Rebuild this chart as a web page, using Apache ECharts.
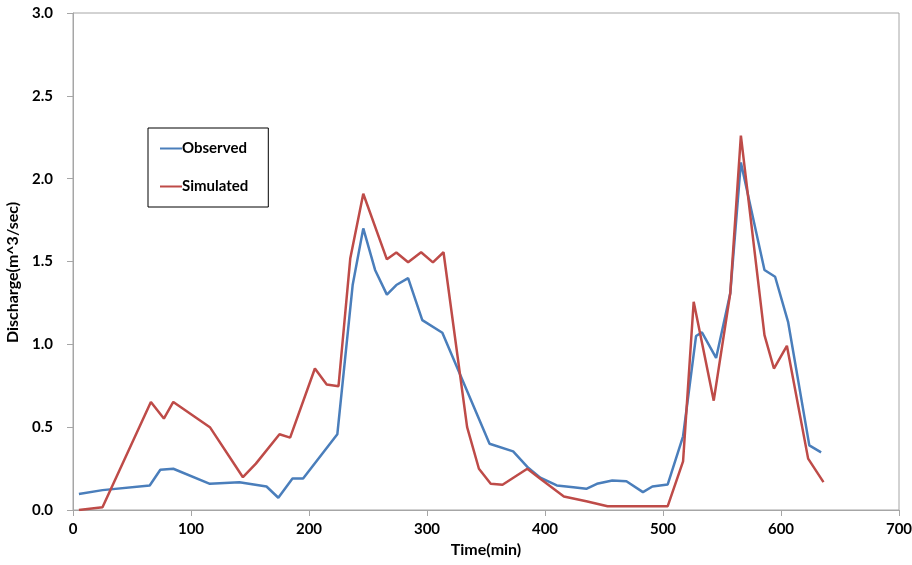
<!DOCTYPE html>
<html>
<head>
<meta charset="utf-8">
<script src="https://cdn.jsdelivr.net/npm/echarts@6/dist/echarts.min.js"></script>
<style>
  html, body { margin: 0; padding: 0; background: #fff; }
  #chart { width: 912px; height: 565px; }
</style>
</head>
<body>
<div id="chart"></div>
<script>
// Time (min) and discharge (m^3/sec) for the observed hydrograph
const obsTime = [5, 25, 65, 74, 85, 116, 141, 164, 174, 186, 195, 224, 237, 246, 256, 266, 274, 284, 296, 313, 353, 373, 386, 396, 410, 424, 435, 444, 457, 469, 483, 491, 504, 517, 528, 533, 545, 557, 566, 586, 595, 606, 624, 634];
const obsQ = [0.096, 0.12, 0.148, 0.243, 0.249, 0.158, 0.168, 0.142, 0.074, 0.19, 0.19, 0.457, 1.358, 1.70, 1.449, 1.30, 1.358, 1.40, 1.146, 1.07, 0.40, 0.354, 0.253, 0.195, 0.148, 0.138, 0.128, 0.158, 0.178, 0.174, 0.108, 0.142, 0.154, 0.445, 1.05, 1.072, 0.918, 1.308, 2.098, 1.449, 1.408, 1.136, 0.39, 0.348];

// Time (min) and discharge (m^3/sec) for the simulated hydrograph
const simTime = [5, 25, 66, 77, 85, 116, 144, 155, 175, 184, 205, 215, 225, 235, 246, 266, 274, 284, 295, 305, 314, 334, 344, 354, 364, 385, 396, 416, 435, 453, 504, 517, 526, 543, 557, 566, 586, 594, 605, 623, 636];
const simQ = [0.0, 0.017, 0.652, 0.552, 0.652, 0.50, 0.198, 0.28, 0.457, 0.437, 0.854, 0.757, 0.747, 1.52, 1.909, 1.513, 1.554, 1.495, 1.556, 1.495, 1.556, 0.50, 0.249, 0.158, 0.152, 0.249, 0.189, 0.082, 0.053, 0.023, 0.023, 0.293, 1.257, 0.66, 1.308, 2.26, 1.056, 0.854, 0.991, 0.31, 0.168];

const xTicks = [0, 100, 200, 300, 400, 500, 600, 700];
const yTicks = [0, 0.5, 1.0, 1.5, 2.0, 2.5, 3.0];

const seriesNames = ['Observed', 'Simulated'];
const seriesColors = ['#4a7ebb', '#be4b48'];

const zip = (xs, ys) => xs.map((x, i) => [x, ys[i]]);

const font = 'Lato, "Open Sans", sans-serif';
const axisGrey = '#a6a6a6';

const chart = echarts.init(document.getElementById('chart'), null, { renderer: 'canvas' });

chart.setOption({
  animation: false,
  backgroundColor: '#ffffff',
  grid: {
    left: 73, right: 13, top: 13, bottom: 55,
    outerBoundsMode: 'none',
    containLabel: false,
    show: true, borderColor: axisGrey, borderWidth: 1, backgroundColor: 'transparent'
  },
  legend: {
    orient: 'vertical',
    left: 148, top: 128,
    padding: [13, 20, 13, 11],
    itemGap: 23,
    itemWidth: 22,
    itemHeight: 14,
    borderColor: '#000',
    borderWidth: 1,
    itemStyle: { opacity: 0 },
    lineStyle: { width: 2 },
    textStyle: { fontFamily: font, fontWeight: 'bold', fontSize: 15, color: '#000', padding: [0, 0, 0, -5] },
    data: seriesNames
  },
  xAxis: {
    type: 'value',
    min: xTicks[0], max: xTicks[xTicks.length - 1], interval: 100,
    name: 'Time(min)',
    nameLocation: 'middle',
    nameGap: 32,
    nameTextStyle: { fontFamily: font, fontWeight: 'bold', fontSize: 16, color: '#000' },
    axisLine: { show: true, lineStyle: { color: axisGrey, width: 1 } },
    axisTick: { show: true, inside: false, length: 6, lineStyle: { color: axisGrey } },
    axisLabel: { margin: 12, fontFamily: font, fontWeight: 'bold', fontSize: 15, color: '#000' },
    splitLine: { show: false }
  },
  yAxis: {
    type: 'value',
    min: yTicks[0], max: yTicks[yTicks.length - 1], interval: 0.5,
    name: 'Discharge(m^3/sec)',
    nameLocation: 'middle',
    nameRotate: 90,
    nameGap: 47,
    nameTextStyle: { fontFamily: font, fontWeight: 'bold', fontSize: 16, color: '#000', padding: [0, 22, 0, 0] },
    axisLine: { show: true, lineStyle: { color: axisGrey, width: 1 } },
    axisTick: { show: true, inside: false, length: 6, lineStyle: { color: axisGrey } },
    axisLabel: {
      margin: 20, fontFamily: font, fontWeight: 'bold', fontSize: 15, color: '#000',
      formatter: v => v.toFixed(1)
    },
    splitLine: { show: false }
  },
  series: [
    {
      name: seriesNames[0], type: 'line', data: zip(obsTime, obsQ),
      symbol: 'none', color: seriesColors[0],
      lineStyle: { width: 2.5, color: seriesColors[0] }, z: 3
    },
    {
      name: seriesNames[1], type: 'line', data: zip(simTime, simQ),
      symbol: 'none', color: seriesColors[1],
      lineStyle: { width: 2.5, color: seriesColors[1] }, z: 4
    }
  ]
});
</script>
</body>
</html>
